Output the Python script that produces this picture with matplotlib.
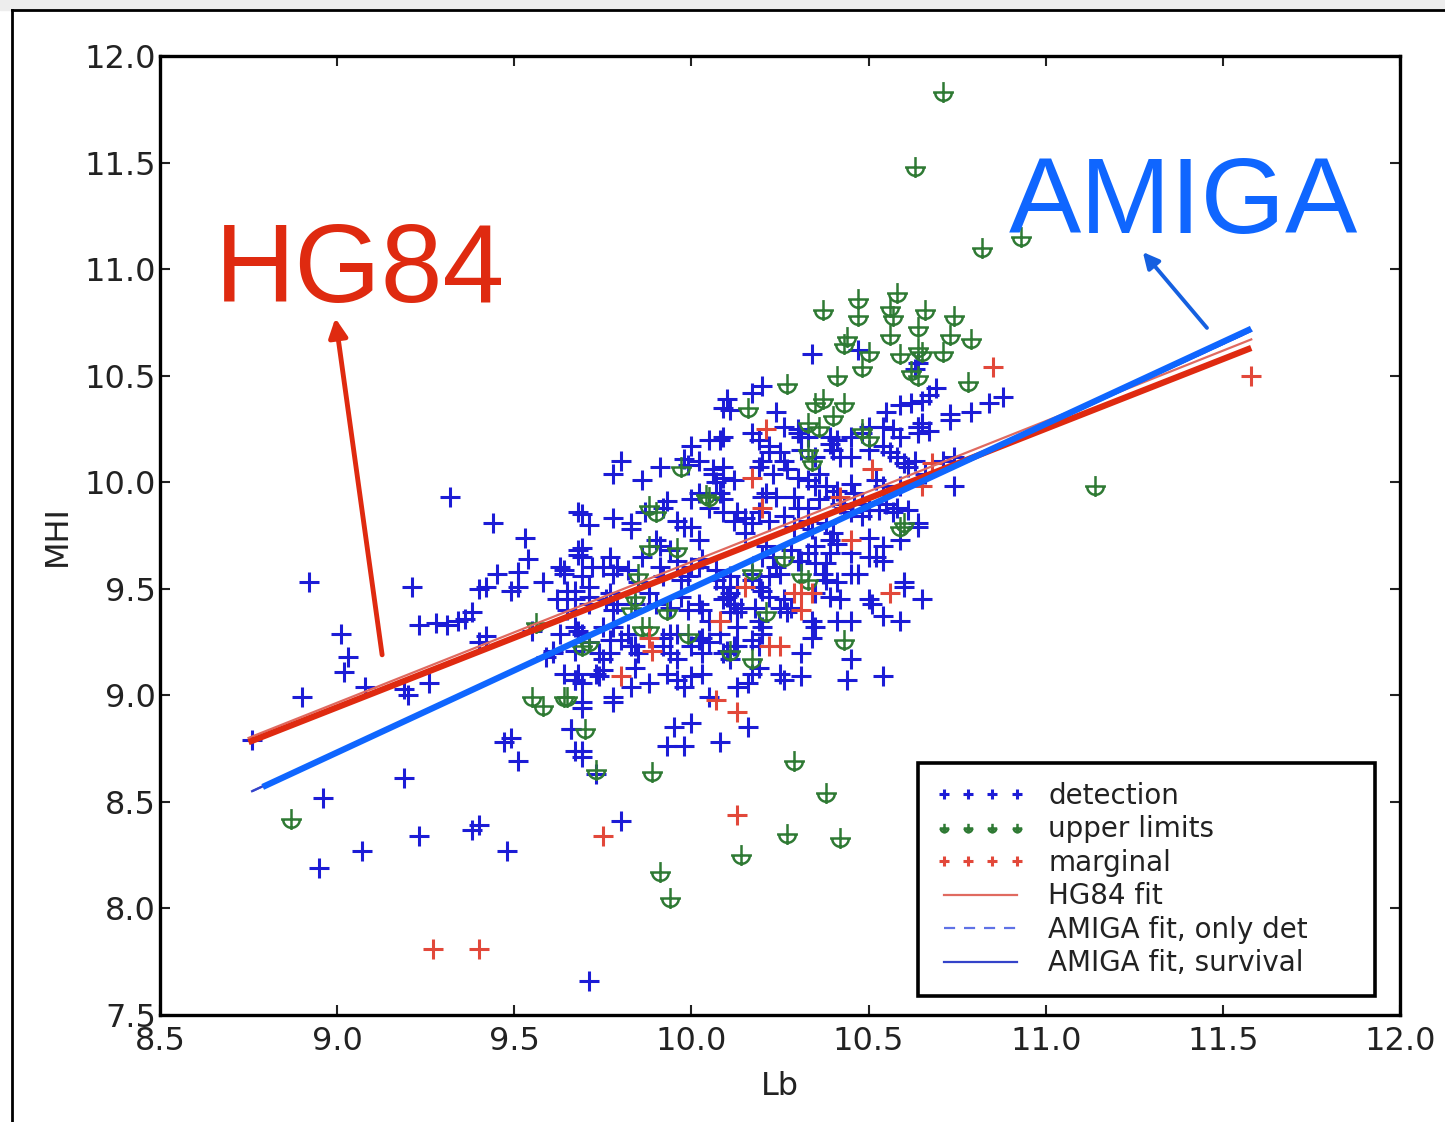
import numpy as np
import matplotlib
matplotlib.use("Agg")
import matplotlib.pyplot as plt
from matplotlib.path import Path
from matplotlib.lines import Line2D
from matplotlib.patches import Rectangle

# ---------------- data ----------------
det_lb = [
    9.32, 9.44, 9.53, 9.54, 8.92, 9.21, 9.45, 9.51, 9.40, 9.42, 9.49, 9.51, 9.58, 9.64,
    9.23, 9.28, 9.31, 9.34, 9.36, 9.38, 9.42, 9.40, 9.01, 9.03, 9.02, 9.08, 8.90, 8.76,
    9.19, 9.20, 9.26, 9.55, 9.59, 9.61, 9.67, 9.66, 9.67, 9.47, 9.49, 9.51, 9.19, 8.96,
    9.23, 9.38, 9.40, 9.48, 9.07, 8.95, 9.68, 9.63, 9.64, 9.68, 9.69, 9.72, 9.65, 9.68,
    9.61, 9.69,
    9.78, 9.86, 9.91, 9.98, 9.99, 10.06, 10.07, 10.09, 10.12, 10.20, 9.69, 9.71, 9.78,
    9.83, 9.83, 9.93, 9.96, 9.98, 10.00, 10.02, 10.05, 10.09, 10.12, 10.15, 10.17, 9.90,
    9.68, 9.69, 9.77, 9.79, 9.75, 9.69, 9.71, 9.91, 9.92, 9.97, 9.99, 10.02, 10.03, 10.07,
    10.09, 10.11, 10.12, 10.14, 10.10, 10.17, 10.19, 9.67, 9.71, 9.67, 9.77, 9.79, 9.84,
    9.88, 9.90, 9.97, 9.99, 10.02, 10.03, 10.05, 10.11, 10.13, 10.19, 10.20, 9.67, 9.69,
    9.75, 9.78, 9.80, 9.82, 9.92, 9.94, 10.03, 10.05, 10.10, 10.13, 10.17, 10.19, 10.20,
    9.67, 9.74, 9.75, 9.77, 9.83, 9.85, 9.94, 9.96, 10.00, 10.09, 10.11, 9.68, 9.67, 9.73,
    9.75, 9.83, 9.88, 9.96, 10.00, 10.05, 10.13, 10.16, 9.78, 9.69,
    10.30, 10.31, 10.39, 10.41, 10.57, 10.59, 10.64, 10.65, 10.73, 10.22, 10.25, 10.40,
    10.42, 10.50, 10.58, 10.60, 10.61, 10.63, 10.74, 10.19, 10.23, 10.27, 10.30, 10.33,
    10.36, 10.38, 10.41, 10.45, 10.46, 10.52, 10.54, 10.59, 10.66, 10.74, 10.20, 10.24,
    10.29, 10.30, 10.33, 10.36, 10.43, 10.45, 10.48, 10.50, 10.55, 10.57, 10.61, 10.64,
    10.19, 10.22, 10.26, 10.29, 10.33, 10.34, 10.38, 10.40, 10.41, 10.50, 10.59, 10.21,
    10.23, 10.28, 10.30, 10.33, 10.35, 10.39, 10.38, 10.45, 10.47, 10.52, 10.54, 10.22,
    10.25, 10.37, 10.38, 10.20, 10.39, 10.42, 10.51, 10.60, 10.65, 10.59, 10.25, 10.27,
    10.34, 10.34, 10.41, 10.45, 10.25, 10.26, 10.44, 10.54, 10.19,
    9.78, 9.66, 9.69, 9.69, 9.73, 9.95, 10.00, 9.93, 9.98, 10.08, 10.16, 9.80, 9.71,
    10.05, 10.08, 10.17, 10.19, 10.26, 10.30, 10.48, 10.50, 10.55, 10.59, 10.62, 10.65,
    10.67, 10.69, 10.63, 10.64, 10.73, 10.79, 10.84, 10.88, 10.67, 10.64, 10.06, 10.09,
    10.34, 10.10, 10.09, 10.17, 10.20, 10.24, 10.47, 10.00, 10.02, 9.80,
]
det_mhi = [
    9.93, 9.81, 9.74, 9.64, 9.53, 9.51, 9.57, 9.58, 9.50, 9.51, 9.49, 9.51, 9.53, 9.59,
    9.33, 9.34, 9.33, 9.35, 9.36, 9.39, 9.28, 9.25, 9.29, 9.18, 9.11, 9.04, 8.99, 8.79,
    9.03, 9.00, 9.06, 9.30, 9.18, 9.20, 9.07, 8.84, 8.74, 8.78, 8.80, 8.69, 8.61, 8.52,
    8.34, 8.37, 8.39, 8.27, 8.27, 8.19, 9.86, 9.60, 9.57, 9.66, 9.69, 9.60, 9.49, 9.30,
    9.21, 8.97,
    10.04, 10.01, 10.07, 10.11, 10.08, 10.04, 10.00, 10.02, 10.01, 10.10, 9.85, 9.80, 9.83,
    9.81, 9.78, 9.91, 9.82, 9.79, 9.79, 9.73, 9.88, 9.86, 9.82, 9.76, 9.81, 9.73,
    9.68, 9.65, 9.65, 9.60, 9.60, 9.56, 9.51, 9.60, 9.56, 9.54, 9.56, 9.60, 9.64, 9.54,
    9.51, 9.48, 9.43, 9.41, 9.46, 9.54, 9.51, 9.49, 9.46, 9.45, 9.48, 9.43, 9.43,
    9.48, 9.43, 9.46, 9.40, 9.43, 9.40, 9.35, 9.39, 9.32, 9.35, 9.32, 9.32, 9.29,
    9.32, 9.32, 9.26, 9.29, 9.27, 9.29, 9.27, 9.25, 9.21, 9.23, 9.26, 9.23, 9.29,
    9.21, 9.20, 9.17, 9.20, 9.23, 9.20, 9.20, 9.17, 9.23, 9.20, 9.17, 9.10, 9.07, 9.10,
    9.12, 9.04, 9.06, 9.07, 9.09, 8.99, 9.04, 9.06, 8.99, 8.94,
    10.25, 10.21, 10.21, 10.20, 10.25, 10.21, 10.26, 10.28, 10.29, 10.17, 10.14, 10.15,
    10.12, 10.15, 10.12, 10.09, 10.07, 10.10, 10.12, 10.07, 10.04, 10.06, 10.02, 10.01,
    10.04, 9.98, 9.96, 9.99, 9.95, 10.01, 9.98, 9.98, 10.04, 9.98, 9.93, 9.93,
    9.93, 9.88, 9.88, 9.92, 9.88, 9.86, 9.90, 9.87, 9.90, 9.86, 9.87, 9.81,
    9.86, 9.82, 9.84, 9.79, 9.82, 9.78, 9.81, 9.76, 9.71, 9.74, 9.73, 9.70,
    9.65, 9.68, 9.63, 9.67, 9.62, 9.67, 9.62, 9.57, 9.57, 9.65, 9.63, 9.56,
    9.57, 9.57, 9.54, 9.49, 9.46, 9.45, 9.43, 9.53, 9.45, 9.35, 9.41, 9.39,
    9.35, 9.27, 9.35, 9.17, 9.10, 9.07, 9.07, 9.09, 9.13,
    8.97, 8.84, 8.74, 8.71, 8.63, 8.85, 8.87, 8.76, 8.76, 8.78, 8.85, 8.41, 7.66,
    10.20, 10.20, 10.23, 10.20, 10.26, 10.23, 10.23, 10.26, 10.33, 10.36, 10.37, 10.38,
    10.41, 10.44, 10.53, 10.56, 10.32, 10.33, 10.37, 10.40, 10.24, 10.26, 10.06, 10.07,
    10.60, 10.39, 10.35, 10.42, 10.45, 10.33, 10.62, 10.17, 10.10, 10.10,
]
# further detections in the crowded core of the cloud
core_lb = [
    10.11, 10.54, 10.09, 10.33, 10.45, 10.08, 10.22, 10.26, 10.31, 10.35, 10.39, 10.45,
    10.54, 10.56, 10.64, 10.71,
    9.87, 9.92, 10.00, 10.02, 10.09, 10.13, 10.15, 10.21, 10.35, 10.40, 10.42, 10.48,
    10.53, 10.58, 10.64,
    9.78, 9.82, 9.86, 9.91, 9.94, 9.96, 10.00, 10.07, 10.11, 10.13, 10.17, 10.20, 10.24,
    10.31, 10.35, 10.39, 10.45, 10.50, 10.54,
    9.62, 9.65, 9.71, 9.76, 9.78, 9.85, 9.94, 10.09, 10.13, 10.18, 10.22, 10.26, 10.28,
    10.35, 10.41, 10.50, 10.60,
    9.63, 9.71, 9.77, 9.84, 9.92, 9.96, 10.02, 10.03, 10.08, 10.12, 10.31, 10.35, 10.45,
    10.54,
    9.64, 9.69, 9.74, 9.84, 9.93, 9.98, 10.03, 10.17, 10.31,
]
core_mhi = [
    10.34, 10.26, 10.21, 10.21, 10.21, 9.95, 10.14, 10.10, 10.15, 10.12, 10.18, 10.12,
    10.17, 10.14, 10.23, 10.10,
    9.86, 9.88, 9.92, 9.95, 9.92, 9.86, 9.83, 9.95, 9.98, 9.93, 9.90, 9.84,
    9.87, 9.88, 9.79,
    9.57, 9.59, 9.65, 9.70, 9.68, 9.63, 9.60, 9.59, 9.56, 9.51, 9.57, 9.65, 9.60,
    9.63, 9.70, 9.73, 9.67, 9.65, 9.70,
    9.45, 9.40, 9.43, 9.45, 9.40, 9.53, 9.41, 9.45, 9.39, 9.41, 9.46, 9.45, 9.41,
    9.48, 9.53, 9.45, 9.51,
    9.29, 9.25, 9.26, 9.23, 9.23, 9.29, 9.26, 9.20, 9.29, 9.23, 9.20, 9.32, 9.35,
    9.37,
    9.10, 9.06, 9.09, 9.13, 9.10, 9.04, 9.10, 9.10, 9.09,
]

upl_lb = [
    9.56, 9.55, 9.58, 9.64, 8.87,
    9.88, 9.90, 10.04, 9.88, 9.96, 9.85, 9.84, 9.93, 9.86, 9.88, 9.99, 9.69, 10.17,
    10.48, 10.50, 10.33, 10.34, 10.59, 10.31, 10.21, 10.43,
    9.70, 9.73, 9.89, 10.29, 10.38, 10.27, 10.42, 10.14, 9.91, 9.94,
    10.71, 10.63, 10.82, 10.93, 10.37, 10.47, 10.47, 10.58, 10.56, 10.57, 10.66, 10.74,
    10.56, 10.64, 10.73, 10.79, 10.43, 10.44, 10.50, 10.59, 10.64, 10.65, 10.71, 10.48,
    10.41, 10.62, 10.64, 10.78, 10.27, 10.16, 10.35, 10.37, 10.43, 10.40, 10.33, 10.36,
    11.14, 9.97, 10.05, 10.17, 10.26, 10.33, 10.60, 10.11, 9.71, 9.65, 9.83,
]
upl_mhi = [
    9.34, 8.99, 8.95, 8.99, 8.42,
    9.89, 9.86, 9.94, 9.70, 9.69, 9.57, 9.46, 9.40, 9.32, 9.32, 9.29, 9.23, 9.17,
    10.25, 10.21, 10.15, 10.10, 9.79, 9.57, 9.39, 9.26,
    8.84, 8.65, 8.64, 8.69, 8.54, 8.35, 8.33, 8.25, 8.17, 8.05,
    11.83, 11.48, 11.10, 11.15, 10.81, 10.86, 10.78, 10.89, 10.82, 10.78, 10.81, 10.78,
    10.69, 10.73, 10.69, 10.67, 10.65, 10.68, 10.61, 10.60, 10.63, 10.61, 10.61, 10.54,
    10.50, 10.52, 10.50, 10.47, 10.46, 10.35, 10.37, 10.39, 10.37, 10.31, 10.28, 10.26,
    9.98, 10.07, 9.93, 9.59, 9.65, 9.54, 9.81, 9.21, 9.25, 8.99, 9.41,
]

mar_lb = [10.17, 10.20, 10.15, 10.08, 9.89, 9.80, 10.07, 10.13,
          10.21, 10.68, 10.65, 10.42, 10.45, 10.29, 10.31, 10.34, 10.56, 10.31, 10.22,
          10.25, 10.51, 10.13, 9.75, 9.27, 9.40, 10.85, 11.58, 9.88]
mar_mhi = [10.02, 9.88, 9.51, 9.35, 9.21, 9.09, 8.98, 8.92,
           10.25, 10.09, 9.98, 9.93, 9.73, 9.48, 9.48, 9.48, 9.48, 9.40, 9.23,
           9.23, 10.06, 8.44, 8.34, 7.81, 7.81, 10.54, 10.50, 9.27]

# fit lines (end points)
hg84_lb = [8.75, 11.58]
hg84_mhi = [8.80, 10.67]
amiga_lb = [8.76, 11.58]
amiga_mhi = [8.55, 10.71]
# highlighted (hand-drawn) overlays of the fits
hg84_hl_lb = [8.75, 11.58]
hg84_hl_mhi = [8.78, 10.63]
amiga_hl_lb = [8.79, 11.58]
amiga_hl_mhi = [8.57, 10.72]

x_ticks = [8.5, 9.0, 9.5, 10.0, 10.5, 11.0, 11.5, 12.0]
y_ticks = [7.5, 8.0, 8.5, 9.0, 9.5, 10.0, 10.5, 11.0, 11.5, 12.0]

# ---------------- style ----------------
BLUE = "#1c1cd6"
GREEN = "#2f7a34"
RED = "#e2483a"
HL_RED = "#df2a10"
HL_BLUE = "#0f66ff"

plt.rcParams["font.family"] = ["DejaVu Sans"]

fig = plt.figure(figsize=(14.45, 11.22), dpi=100)
ax = fig.add_axes([0.1107, 0.0954, 0.9689 - 0.1107, 0.9501 - 0.0954])

# upper-limit marker: plus with a downward cup
theta = np.linspace(np.pi, 2 * np.pi, 15)
cup = [(0.8 * np.cos(t), 0.8 * np.sin(t)) for t in theta]
verts = [(0, 1), (0, -1), (-1, 0), (1, 0)] + cup
codes = [Path.MOVETO, Path.LINETO, Path.MOVETO, Path.LINETO] + \
        [Path.MOVETO] + [Path.LINETO] * (len(cup) - 1)
uplim_marker = Path(verts, codes)

ax.plot(det_lb + core_lb, det_mhi + core_mhi, ls="none", marker="+", ms=15, mew=2.2,
        color=BLUE, label="detection", zorder=3)
ax.plot(upl_lb, upl_mhi, ls="none", marker=uplim_marker, ms=15, mew=1.8,
        color=GREEN, mfc="none", label="upper limits", zorder=3)
ax.plot(mar_lb, mar_mhi, ls="none", marker="+", ms=15, mew=2.2, color=RED,
        label="marginal", zorder=3)

ax.plot(hg84_lb, hg84_mhi, color="#e06a60", lw=1.6, label="HG84 fit", zorder=4)
ax.plot(amiga_lb, amiga_mhi, color="#5f72e6", lw=1.6, ls=(0, (5, 4)),
        label="AMIGA fit, only det", zorder=4)
ax.plot(amiga_lb, amiga_mhi, color="#3443c9", lw=1.6,
        label="AMIGA fit, survival", zorder=4)

ax.plot(hg84_hl_lb, hg84_hl_mhi, color=HL_RED, lw=4.5, solid_capstyle="butt", zorder=5)
ax.plot(amiga_hl_lb, amiga_hl_mhi, color=HL_BLUE, lw=4.5, solid_capstyle="butt", zorder=5)

ax.set_xlim(8.5, 12.0)
ax.set_ylim(7.5, 12.0)
ax.set_xticks(x_ticks)
ax.set_yticks(y_ticks)
ax.set_xticklabels([f"{v:.1f}" for v in x_ticks])
ax.set_yticklabels([f"{v:.1f}" for v in y_ticks])
ax.tick_params(direction="in", length=7, width=1.5, top=True, right=True,
               labelsize=23, colors="#222222")
ax.tick_params(axis="x", pad=8)
ax.tick_params(axis="y", pad=3)
for s in ax.spines.values():
    s.set_linewidth(2.4)
    s.set_color("black")
ax.set_xlabel("Lb", fontsize=23, labelpad=10, color="#222222")
ax.set_ylabel("MHI", fontsize=23, labelpad=8, color="#222222")

leg = ax.legend(loc="lower left", bbox_to_anchor=(0.611, 0.020, 0.369, 0.243),
                mode="expand", numpoints=4, markerscale=0.45, fontsize=20,
                labelspacing=0.2, handlelength=3.2, handletextpad=0.85,
                borderpad=0.66, frameon=True, fancybox=False, framealpha=1,
                edgecolor="black", borderaxespad=0)
leg.get_frame().set_linewidth(2.6)
for t in leg.get_texts():
    t.set_color("#222222")

# annotations
ax.text(8.655, 10.846, "HG84", color=HL_RED, fontsize=80, family="Liberation Sans",
        ha="left", va="baseline", zorder=6)
ax.text(10.895, 11.17, "AMIGA", color=HL_BLUE, fontsize=78, family="Liberation Sans",
        ha="left", va="baseline", zorder=6)
ax.annotate("", xy=(8.995, 10.77), xytext=(9.127, 9.19),
            arrowprops=dict(arrowstyle="-|>", color=HL_RED, lw=3.5,
                            mutation_scale=28, shrinkA=0, shrinkB=0), zorder=6)
ax.annotate("", xy=(11.274, 11.08), xytext=(11.455, 10.724),
            arrowprops=dict(arrowstyle="-|>", color="#1560e0", lw=2.8,
                            mutation_scale=24, shrinkA=0, shrinkB=0), zorder=6)

# outer screenshot frame
fig.patches.append(Rectangle((0, 0.991), 1, 0.009, transform=fig.transFigure,
                             color="#ededed", zorder=0))
fig.lines.append(Line2D([0.0083, 0.0083], [0, 0.991], transform=fig.transFigure,
                        color="black", lw=2))
fig.lines.append(Line2D([0.0083, 1], [0.991, 0.991], transform=fig.transFigure,
                        color="black", lw=2))

fig.savefig("out.png", dpi=100)
